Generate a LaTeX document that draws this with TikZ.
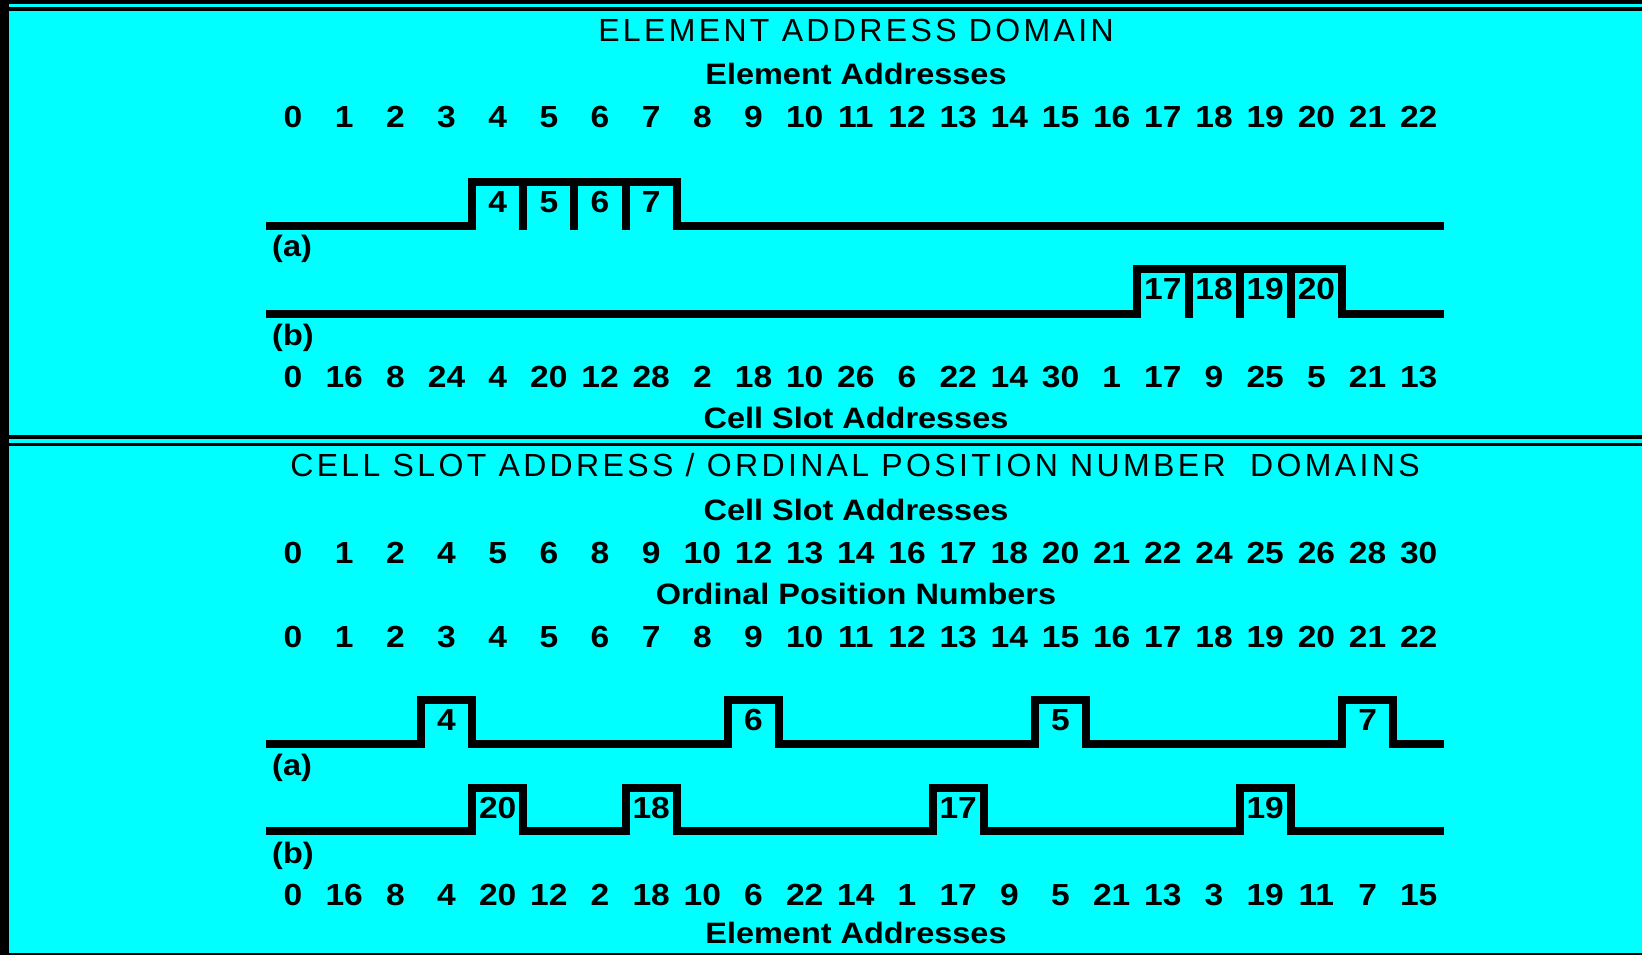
\documentclass[tikz,border=0pt]{standalone}
\usepackage{fontspec}
\setmainfont{Liberation Sans}
\newfontfamily\bfont[FakeStretch=1.1]{Liberation Sans}
\newfontfamily\tfont[LetterSpace=10.5]{Liberation Sans}
\definecolor{bgcyan}{RGB}{0,255,255}
\newcommand{\cx}[1]{(293+51.17*(#1))}
\newcommand{\lx}[1]{(267.4+51.17*(#1))}
\newcommand{\rx}[1]{(318.6+51.17*(#1))}
\begin{document}
\begin{tikzpicture}[x=1pt,y=-1pt,
  num/.style={anchor=base, inner sep=0pt, font=\bfont\bfseries\fontsize{30.5}{30.5}\selectfont},
  head/.style={anchor=base, inner sep=0pt, font=\bfont\bfseries\fontsize{29.5}{29.5}\selectfont},
  ttl/.style={anchor=base, inner sep=0pt, font=\tfont\fontsize{32}{32}\selectfont},
  lab/.style={anchor=base west, inner sep=0pt, font=\bfont\bfseries\fontsize{29.5}{29.5}\selectfont},
  wave/.style={line width=8pt, line join=miter},
  divider/.style={line width=8pt, line cap=rect}]
\useasboundingbox (0,0) rectangle (1642,955);
% background and frame
\fill[bgcyan] (0,0) rectangle (1642,955);
\fill[black] (0,0) rectangle (1642,4.5);
\fill[black] (0,6.8) rectangle (1642,11);
\fill[black] (0,435) rectangle (1642,439);
\fill[black] (0,442.5) rectangle (1642,446);
\fill[black] (0,953) rectangle (1642,955);
\fill[black] (0,0) rectangle (9,955);

% ---------------- upper panel ----------------
\node[ttl] (t1) at (856,42) {ELEMENT ADDRESS DOMAIN};
\node[head] (h1) at (856,85) {Element Addresses};
\foreach \v [count=\i from 0] in {0,1,2,3,4,5,6,7,8,9,10,11,12,13,14,15,16,17,18,19,20,21,22}
  \node[num] (ea\i) at ({\cx{\i}},128) {\v};

% waveform (a)
\draw[wave] (266,226) -- ({\lx{4}},226) -- ({\lx{4}},182) -- ({\rx{7}},182) -- ({\rx{7}},226) -- (1444,226);
\foreach \c in {4,5,6}
  \draw[divider] ({\rx{\c}},182) -- ({\rx{\c}},226);
\foreach \c in {4,5,6,7}
  \node[num] (ua\c) at ({\cx{\c}},212) {\c};
\node[lab] (la1) at (272,256.5) {(a)};

% waveform (b)
\draw[wave] (266,314) -- ({\lx{17}},314) -- ({\lx{17}},269) -- ({\rx{20}},269) -- ({\rx{20}},314) -- (1444,314);
\foreach \c in {17,18,19}
  \draw[divider] ({\rx{\c}},269) -- ({\rx{\c}},314);
\foreach \c in {17,18,19,20}
  \node[num] (ub\c) at ({\cx{\c}},299) {\c};
\node[lab] (lb1) at (272,345.5) {(b)};

\foreach \v [count=\i from 0] in {0,16,8,24,4,20,12,28,2,18,10,26,6,22,14,30,1,17,9,25,5,21,13}
  \node[num] (cs\i) at ({\cx{\i}},387) {\v};
\node[head] (h2) at (856,428.5) {Cell Slot Addresses};

% ---------------- lower panel ----------------
\node[ttl] (t2) at (855,476) {CELL SLOT ADDRESS / ORDINAL POSITION NUMBER\ \ DOMAINS};
\node[head] (h3) at (856,520) {Cell Slot Addresses};
\foreach \v [count=\i from 0] in {0,1,2,4,5,6,8,9,10,12,13,14,16,17,18,20,21,22,24,25,26,28,30}
  \node[num] (ls\i) at ({\cx{\i}},563) {\v};
\node[head] (h4) at (856,604) {Ordinal Position Numbers};
\foreach \v [count=\i from 0] in {0,1,2,3,4,5,6,7,8,9,10,11,12,13,14,15,16,17,18,19,20,21,22}
  \node[num] (op\i) at ({\cx{\i}},647) {\v};

% waveform (a)
\draw[wave] (266,744)
  -- ({\lx{3}},744) -- ({\lx{3}},700) -- ({\rx{3}},700) -- ({\rx{3}},744)
  -- ({\lx{9}},744) -- ({\lx{9}},700) -- ({\rx{9}},700) -- ({\rx{9}},744)
  -- ({\lx{15}},744) -- ({\lx{15}},700) -- ({\rx{15}},700) -- ({\rx{15}},744)
  -- ({\lx{21}},744) -- ({\lx{21}},700) -- ({\rx{21}},700) -- ({\rx{21}},744)
  -- (1444,744);
\foreach \c/\t in {3/4,9/6,15/5,21/7}
  \node[num] (pa\c) at ({\cx{\c}},730) {\t};
\node[lab] (la2) at (272,775) {(a)};

% waveform (b)
\draw[wave] (266,831)
  -- ({\lx{4}},831) -- ({\lx{4}},788) -- ({\rx{4}},788) -- ({\rx{4}},831)
  -- ({\lx{7}},831) -- ({\lx{7}},788) -- ({\rx{7}},788) -- ({\rx{7}},831)
  -- ({\lx{13}},831) -- ({\lx{13}},788) -- ({\rx{13}},788) -- ({\rx{13}},831)
  -- ({\lx{19}},831) -- ({\lx{19}},788) -- ({\rx{19}},788) -- ({\rx{19}},831)
  -- (1444,831);
\foreach \c/\t in {4/20,7/18,13/17,19/19}
  \node[num] (pb\c) at ({\cx{\c}},818) {\t};
\node[lab] (lb2) at (272,863) {(b)};

\foreach \v [count=\i from 0] in {0,16,8,4,20,12,2,18,10,6,22,14,1,17,9,5,21,13,3,19,11,7,15}
  \node[num] (le\i) at ({\cx{\i}},905) {\v};
\node[head] (h5) at (856,943) {Element Addresses};
\end{tikzpicture}
\end{document}
